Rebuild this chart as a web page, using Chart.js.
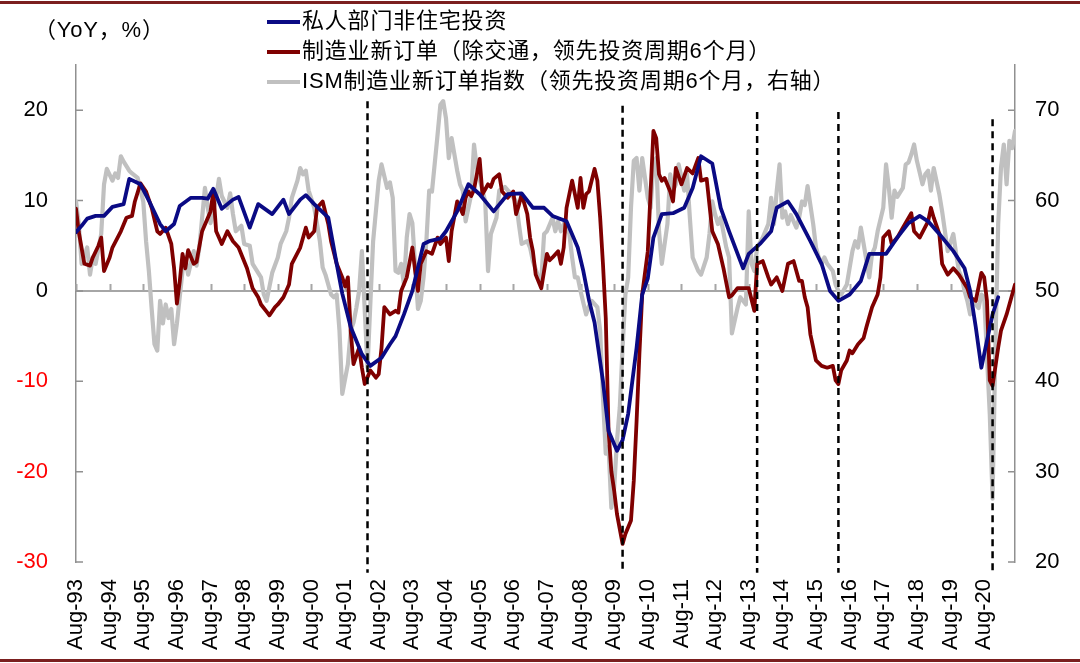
<!DOCTYPE html>
<html>
<head>
<meta charset="utf-8">
<script src="https://cdn.jsdelivr.net/npm/chart.js@4.4.1/dist/chart.umd.min.js"></script>
<style>
  body { margin: 0; background: #fff; }
  #wrap { width: 1080px; height: 663px; }
</style>
</head>
<body>
<div id="wrap"><canvas id="myChart"></canvas></div>
<script>
// x values are months counted from Aug-93 (0 = Aug-93)
const tickLabels = ['Aug-93','Aug-94','Aug-95','Aug-96','Aug-97','Aug-98','Aug-99','Aug-00','Aug-01','Aug-02',
  'Aug-03','Aug-04','Aug-05','Aug-06','Aug-07','Aug-08','Aug-09','Aug-10','Aug-11','Aug-12','Aug-13','Aug-14',
  'Aug-15','Aug-16','Aug-17','Aug-18','Aug-19','Aug-20']
const lastMonth = 335

const seriesNames = ['私人部门非住宅投资', '制造业新订单（除交通，领先投资周期6个月）', 'ISM制造业新订单指数（领先投资周期6个月，右轴）']

// 私人部门非住宅投资 YoY %
const investment = [[0,6.5],[2,7.2],[4,8.0],[7,8.3],[10,8.3],[13,9.3],[17,9.6],[19,12.4],[23,11.8],[26,10.0],[30,7.4],[32,6.6],
  [35,7.4],[37,9.4],[41,10.3],[45,10.3],[47,10.2],[49,11.3],[52,9.1],[56,10.1],[58,10.4],[62,7.0],[65,9.6],[70,8.5],[74,10.1],
  [76,8.5],[80,10.1],[82,10.6],[85,9.6],[90,8.1],[93,3.0],[95,-0.3],[98,-4.0],[102,-7.0],[105,-8.3],[109,-7.4],[112,-5.9],
  [114,-5.0],[117,-2.6],[120,0],[124,5.2],[126,5.5],[130,5.8],[132,6.6],[136,8.8],[140,11.8],[144,10.7],[149,8.8],[154,10.7],
  [159,10.8],[163,9.2],[167,9.2],[170,8.3],[175,7.7],[179,4.8],[181,2.2],[183,-1.0],[185,-3.5],[188,-10],[190,-15.5],
  [193,-17.7],[195,-16.5],[197,-13.6],[200,-6.3],[202,-0.4],[204,1.4],[206,5.9],[209,8.5],[213,8.6],[217,9.2],[220,11.4],
  [223,14.9],[227,14.1],[230,9.2],[233,6.6],[238,2.5],[240,4.1],[244,5.2],[248,6.6],[250,9.2],[254,9.9],[257,8.5],[262,5.5],
  [266,3.0],[269,0],[272,-1.1],[276,-0.4],[280,1.1],[283,4.1],[289,4.1],[293,5.9],[297,7.5],[301,8.3],[304,7.7],[308,6.3],
  [313,4.4],[317,2.5],[319,0],[321,-4],[323,-8.5],[325,-5.5],[327,-2.6],[329,-0.7]]

// 制造业新订单 (除交通) YoY %, shifted 6 months
const newOrders = [[0,9.1],[1,6.5],[3,3.0],[5,2.8],[6,3.7],[8,5.0],[9,5.9],[10,2.2],[12,3.7],[13,4.8],[16,6.6],[18,8.1],
  [20,8.3],[21,9.9],[23,11.9],[25,11.0],[27,9.2],[29,6.6],[30,6.3],[32,7.0],[34,5.2],[35,2.5],[36,-1.4],[37,1.0],[38,4.1],
  [39,2.5],[40,4.5],[42,3.0],[43,3.2],[45,6.6],[48,8.8],[49,11.0],[50,6.6],[51,5.9],[52,5.2],[54,6.6],[56,5.5],[58,4.8],
  [61,2.5],[63,0.3],[65,-0.7],[66,-1.5],[68,-2.3],[69,-2.7],[71,-1.8],[72,-1.5],[74,-0.7],[76,0.7],[77,3.0],[80,4.8],
  [82,7.0],[83,5.9],[85,6.6],[86,9.2],[88,9.9],[90,7.4],[91,5.5],[93,3.0],[95,1.5],[96,0.5],[97,1.5],[98,-4.4],[99,-8.1],
  [101,-6.3],[102,-8.5],[103,-10.3],[105,-8.8],[107,-9.6],[108,-9.2],[109,-6.3],[110,-1.8],[112,-2.6],[114,-2.2],[115,-2.4],
  [116,0],[118,1.5],[120,4.8],[121,2.2],[122,0],[123,3.0],[125,4.4],[127,4.1],[129,5.9],[130,5.2],[132,5.9],[133,3.3],
  [134,6.6],[136,9.9],[138,8.5],[139,10.3],[140,11.0],[141,10.5],[142,11.2],[144,14.6],[145,10.7],[147,11.8],[148,11.5],
  [149,12.4],[151,12.9],[152,11.0],[154,10.3],[156,11.0],[157,8.5],[158,9.5],[159,10.7],[161,8.5],[162,5.9],[163,4.4],
  [164,1.8],[166,0.3],[167,2.2],[168,4.1],[169,3.4],[170,3.7],[172,4.4],[173,3.0],[174,4.8],[175,9.2],[177,12.2],[179,9.2],
  [180,12.5],[181,9.2],[182,10.7],[183,11.0],[185,13.5],[186,12.2],[187,8.1],[188,3.0],[189,-3.0],[190,-15.5],[191,-20],
  [192,-22.1],[193,-24.7],[195,-28.0],[196,-26.9],[198,-25.4],[199,-21.0],[200,-14.4],[201,-7.0],[202,-0.4],[204,4.4],
  [205,11.0],[206,17.7],[207,16.9],[208,12.9],[209,12.2],[210,12.5],[212,11.0],[213,9.9],[214,13.6],[216,11.8],[218,13.6],
  [220,13.0],[222,14.7],[223,12.2],[225,12.4],[227,6.6],[229,5.2],[231,2.5],[233,-0.7],[234,-0.5],[236,0.3],[238,0.3],
  [240,0.3],[242,-2.2],[243,3.0],[245,3.3],[247,1.5],[248,0.7],[250,1.5],[252,0],[254,3.0],[256,3.3],[258,1.1],[259,1.1],
  [260,-0.7],[261,-1.8],[262,-4.8],[264,-7.7],[266,-8.3],[268,-8.5],[270,-8.3],[271,-9.9],[272,-10.3],[273,-8.8],[275,-7.7],
  [276,-6.6],[277,-6.9],[279,-5.9],[281,-5.2],[282,-4.0],[284,-1.8],[286,-0.4],[287,1.5],[288,5.9],[290,6.6],[291,5.2],
  [293,5.9],[295,7.0],[298,8.6],[299,6.6],[301,5.9],[304,7.7],[305,9.2],[306,8.1],[308,6.3],[309,3.0],[311,1.8],[313,2.5],
  [315,1.8],[318,0.3],[319,-0.7],[321,-1.1],[323,2.0],[324,1.5],[325,-1.1],[326,-9.9],[327,-10.5],[329,-6.3],[330,-4.4],
  [332,-2.6],[335,0.7]]

// ISM制造业新订单指数, shifted 6 months (right axis)
const ismIndex = [[0,59.9],[1,57.4],[2,53.0],[4,54.8],[5,51.8],[6,53.7],[7,53.0],[9,56.3],[10,61.8],[11,63.5],[13,62.2],
  [14,63.0],[15,62.5],[16,64.9],[17,64.3],[19,63.3],[20,63.0],[22,62.5],[24,59.9],[25,55.5],[26,52.2],[27,48.0],[28,44.1],
  [29,43.4],[30,48.9],[31,46.4],[32,48.5],[33,47.0],[34,48.0],[35,44.1],[36,46.4],[38,52.2],[39,53.7],[40,51.8],[42,54.4],
  [43,52.8],[44,54.8],[46,61.4],[47,59.2],[48,57.5],[50,60.3],[51,62.4],[52,60.5],[54,59.2],[55,60.8],[56,58.5],[57,56.6],
  [59,57.2],[60,55.2],[62,55.0],[63,53.0],[66,51.5],[67,49.6],[68,48.9],[70,52.0],[72,53.7],[73,55.2],[75,56.6],[76,58.1],
  [77,60.3],[79,62.2],[80,63.6],[81,62.9],[82,63.3],[83,61.1],[85,59.2],[86,57.4],[87,55.5],[88,52.6],[89,51.8],[91,49.6],
  [92,49.3],[93,49.6],[94,45.6],[95,38.6],[97,41.9],[98,45.6],[99,46.5],[100,48.1],[101,50.0],[102,54.4],[104,41.5],
  [106,55.5],[108,62.2],[109,64.0],[111,61.4],[112,62.0],[113,60.3],[114,52.2],[115,52.0],[116,53.0],[117,50.7],[118,55.9],
  [119,58.5],[120,57.5],[122,48.0],[123,48.9],[124,51.5],[125,55.5],[126,61.1],[127,61.0],[129,67.3],[130,70.6],[131,71.0],
  [132,69.1],[133,64.7],[134,66.9],[136,63.3],[137,61.8],[138,61.1],[139,57.7],[141,60.7],[142,66.2],[143,63.6],[145,61.1],
  [146,59.9],[147,52.2],[148,56.3],[150,58.1],[151,61.1],[153,61.5],[155,60.8],[157,59.9],[158,57.4],[159,55.2],[161,55.5],
  [162,54.8],[163,53.3],[165,51.5],[166,51.2],[167,56.3],[168,56.6],[170,58.1],[171,56.6],[172,57.7],[173,56.6],[174,57.4],
  [176,56.3],[177,53.7],[178,51.5],[179,51.5],[180,50.0],[182,47.4],[183,48.3],[184,48.9],[186,48.2],[187,45.6],[188,38.2],
  [189,32.0],[190,32.7],[191,26.0],[192,28.2],[193,33.4],[194,37.1],[195,43.7],[196,49.6],[197,51.5],[198,59.2],[199,64.4],
  [200,64.7],[201,61.1],[202,64.7],[204,60.3],[205,59.2],[206,64.0],[207,64.7],[208,56.6],[209,53.0],[211,57.4],[212,62.9],
  [213,61.1],[214,61.8],[215,64.0],[217,61.1],[218,62.9],[219,58.1],[220,53.7],[222,52.2],[223,51.8],[225,53.7],[226,56.3],
  [227,59.9],[228,58.5],[229,57.4],[230,58.1],[232,54.8],[233,53.7],[234,45.3],[236,48.1],[237,49.3],[239,48.5],[240,58.8],
  [241,53.0],[242,52.2],[243,54.8],[245,55.9],[247,57.4],[248,60.3],[249,57.4],[250,61.1],[251,64.0],[252,58.1],[253,58.8],
  [254,57.4],[255,58.4],[257,57.0],[258,58.1],[259,59.9],[260,59.5],[261,61.6],[263,57.4],[264,54.8],[265,53.7],[266,53.0],
  [267,53.7],[268,53.0],[270,52.2],[271,50.7],[272,50.0],[273,49.6],[275,50.7],[277,54.4],[278,55.5],[279,54.8],[280,57.0],
  [281,55.2],[283,51.5],[284,54.1],[285,54.8],[286,56.6],[288,59.2],[289,64.0],[290,61.4],[291,58.1],[292,61.1],[293,60.4],
  [295,61.4],[296,64.0],[297,64.2],[298,65.1],[299,66.2],[300,64.4],[302,61.8],[303,62.9],[304,63.3],[305,61.1],[306,63.6],
  [308,60.7],[309,58.8],[310,56.6],[311,54.4],[313,56.3],[314,54.1],[315,52.2],[316,51.5],[317,50.0],[318,48.9],[319,47.4],
  [320,48.9],[322,48.1],[323,49.6],[324,49.3],[326,36.4],[327,27.0],[328,43.7],[329,57.4],[330,63.6],[331,66.2],[332,61.8],
  [333,66.6],[334,65.8],[335,67.7]]

// dashed markers (month, top value on left axis)
const leadMarks = [104, 195, 243, 272, 327]
const leadMarkTops = [21, 20.5, 19.8, 19.8, 19]

const leftTicks = [-30, -20, -10, 0, 10, 20]
const rightTicks = [20, 30, 40, 50, 60, 70]

const colors = ['#0A0A84', '#7F0000', '#C0C0C0']
const latin = '"Liberation Sans", Arial, sans-serif'
const mixed = '"Liberation Sans", "Noto Sans CJK SC", sans-serif'

const toPoints = arr => arr.map(p => ({x: p[0], y: p[1]}))

const decor = {
  id: 'decor',
  beforeDatasetsDraw(chart) {
    const {ctx, chartArea: a, scales} = chart
    const x = scales.x, y = scales.y, y2 = scales.y2
    ctx.save()
    ctx.strokeStyle = '#A6A6A6'
    ctx.lineWidth = 2
    const y0 = y.getPixelForValue(0)
    ctx.beginPath()
    ctx.moveTo(a.left, y0); ctx.lineTo(a.right, y0)
    tickLabels.forEach((t, k) => {
      const px = Math.round(x.getPixelForValue(k * 12)) + 0.5
      ctx.moveTo(px, y0); ctx.lineTo(px, y0 - 7)
    })
    ctx.stroke()
    ctx.strokeStyle = '#909090'
    ctx.lineWidth = 1.5
    ctx.beginPath()
    leftTicks.forEach(v => {
      const py = y.getPixelForValue(v)
      ctx.moveTo(a.left, py); ctx.lineTo(a.left + 7, py)
    })
    rightTicks.forEach(v => {
      const py = y2.getPixelForValue(v)
      ctx.moveTo(a.right, py); ctx.lineTo(a.right - 7, py)
    })
    ctx.stroke()
    ctx.restore()
  },
  afterDatasetsDraw(chart) {
    const {ctx, scales} = chart
    ctx.save()
    ctx.strokeStyle = '#000'
    ctx.lineWidth = 2.5
    ctx.setLineDash([7, 5])
    leadMarks.forEach((m, k) => {
      const px = scales.x.getPixelForValue(m)
      ctx.beginPath()
      ctx.moveTo(px, scales.y.getPixelForValue(leadMarkTops[k]))
      ctx.lineTo(px, scales.y.getPixelForValue(-31.2))
      ctx.stroke()
    })
    ctx.restore()
  },
  afterDraw(chart) {
    const {ctx} = chart
    ctx.save()
    // legend
    const rows = [22, 52, 82]
    ctx.font = '22px ' + mixed
    ctx.textBaseline = 'middle'
    ctx.textAlign = 'left'
    ctx.letterSpacing = '0.8px'
    seriesNames.forEach((name, k) => {
      ctx.strokeStyle = colors[k]
      ctx.lineWidth = 4
      ctx.beginPath()
      ctx.moveTo(267, rows[k]); ctx.lineTo(300, rows[k])
      ctx.stroke()
      ctx.fillStyle = '#000'
      ctx.fillText(name, 302, rows[k])
    })
    ctx.fillText('（YoY，%）', 34, 31)
    // frame lines
    ctx.fillStyle = '#7B1F1F'
    ctx.fillRect(0, 1, 1080, 3)
    ctx.fillRect(0, 659, 1080, 3)
    ctx.restore()
  }
}

const ctx = document.getElementById('myChart')

new Chart(ctx, {
  type: 'line',
  data: {
    datasets: [
      {label: seriesNames[0], data: toPoints(investment), borderColor: colors[0], borderWidth: 3.8, yAxisID: 'y'},
      {label: seriesNames[1], data: toPoints(newOrders), borderColor: colors[1], borderWidth: 3.8, yAxisID: 'y'},
      {label: seriesNames[2], data: toPoints(ismIndex), borderColor: colors[2], borderWidth: 4.2, yAxisID: 'y2'}
    ]
  },
  options: {
    responsive: true,
    maintainAspectRatio: false,
    animation: false,
    layout: {padding: {top: 65, left: 0, right: 0, bottom: 0}},
    elements: {
      point: {radius: 0},
      line: {tension: 0, borderJoinStyle: 'round', borderCapStyle: 'round'}
    },
    plugins: {legend: {display: false}, tooltip: {enabled: false}},
    scales: {
      x: {
        type: 'linear',
        min: 0,
        max: lastMonth,
        grid: {display: false, drawTicks: false},
        border: {display: false},
        afterBuildTicks: s => { s.ticks = tickLabels.map((t, k) => ({value: k * 12})) },
        afterFit: s => { s.height = 101 },
        ticks: {
          minRotation: 90,
          maxRotation: 90,
          autoSkip: false,
          padding: 17,
          color: '#000',
          font: {family: latin, size: 22},
          callback: v => tickLabels[Math.round(v / 12)]
        }
      },
      y: {
        position: 'left',
        min: -30,
        max: 25,
        grid: {display: false, drawTicks: false},
        border: {display: true, color: '#909090', width: 1.5},
        afterBuildTicks: s => { s.ticks = leftTicks.map(v => ({value: v})) },
        afterFit: s => { s.width = 76 },
        ticks: {
          padding: 28,
          font: {family: latin, size: 22},
          color: c => c.tick && c.tick.value < 0 ? '#FF0000' : '#000'
        }
      },
      y2: {
        position: 'right',
        min: 20,
        max: 75,
        grid: {display: false, drawTicks: false},
        border: {display: true, color: '#909090', width: 1.5},
        afterBuildTicks: s => { s.ticks = rightTicks.map(v => ({value: v})) },
        afterFit: s => { s.width = 65 },
        ticks: {
          padding: 20,
          color: '#000',
          font: {family: latin, size: 22}
        }
      }
    }
  },
  plugins: [decor]
})
</script>
</body>
</html>
